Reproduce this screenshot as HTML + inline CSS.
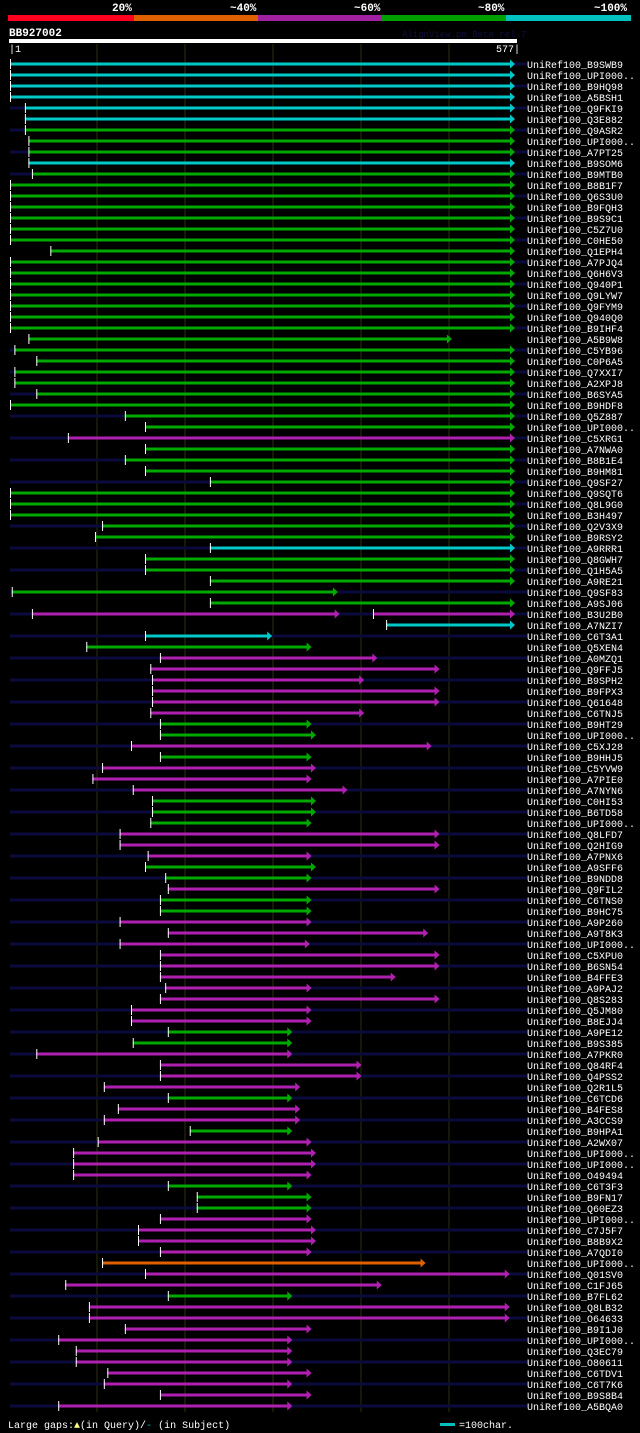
<!DOCTYPE html>
<html><head><meta charset="utf-8"><style>
body{margin:0;background:#000;width:640px;height:1433px;overflow:hidden}
svg{display:block}
text{font-family:"Liberation Mono","DejaVu Sans Mono",monospace}
</style></head><body>
<svg id="c" width="640" height="1433" xmlns="http://www.w3.org/2000/svg">
<rect width="640" height="1433" fill="#000"/>
<g>
<rect x="8" y="15" width="126" height="6" fill="#ff0020"/>
<rect x="134" y="15" width="124" height="6" fill="#e06000"/>
<rect x="258" y="15" width="124" height="6" fill="#a020a0"/>
<rect x="382" y="15" width="124" height="6" fill="#00a000"/>
<rect x="506" y="15" width="125" height="6" fill="#00c0c0"/>
<text x="112" y="11" fill="#fff" font-size="11" font-weight="bold">20%</text>
<text x="230" y="11" fill="#fff" font-size="11" font-weight="bold">~40%</text>
<text x="354" y="11" fill="#fff" font-size="11" font-weight="bold">~60%</text>
<text x="478" y="11" fill="#fff" font-size="11" font-weight="bold">~80%</text>
<text x="594" y="11" fill="#fff" font-size="11" font-weight="bold">~100%</text>
</g>
<text x="9" y="36" fill="#fff" font-size="11" font-weight="bold">BB927002</text>
<text x="402" y="37" fill="#101040" font-size="9">AlignView.pm Beta rel.7</text>
<rect x="9" y="39" width="508" height="4" fill="#fff"/>
<text x="9" y="52" fill="#fff" font-size="10">|1</text>
<text x="496" y="52" fill="#fff" font-size="10">577|</text>
<g id="grid"></g>
<g id="rows"></g>
<g>
<text x="8" y="1428" fill="#fff" font-size="10">Large gaps:<tspan fill="#ffff80">▲</tspan>(in Query)/<tspan fill="#00c0c0">-</tspan> (in Subject)</text>
<rect x="440" y="1423" width="15" height="3" fill="#00c0c0"/>
<text x="459" y="1428" fill="#fff" font-size="10">=100char.</text>
</g>
</svg>
<script>
const names=["B9SWB9","UPI000..","B9HQ98","A5BSH1","Q9FKI9","Q3E882","Q9ASR2","UPI000..","A7PT25","B9SOM6","B9MTB0","B8B1F7","Q6S3U0","B9FQH3","B9S9C1","C5Z7U0","C0HE50","Q1EPH4","A7PJQ4","Q6H6V3","Q940P1","Q9LYW7","Q9FYM9","Q940Q0","B9IHF4","A5B9W8","C5YB96","C0P6A5","Q7XXI7","A2XPJ8","B6SYA5","B9HDF8","Q5Z887","UPI000..","C5XRG1","A7NWA0","B8B1E4","B9HM81","Q9SF27","Q9SQT6","Q8L9G0","B3H497","Q2V3X9","B9RSY2","A9RRR1","Q8GWH7","Q1H5A5","A9RE21","Q9SF83","A9SJ06","B3U2B0","A7NZI7","C6T3A1","Q5XEN4","A0MZQ1","Q9FFJ5","B9SPH2","B9FPX3","Q61648","C6TNJ5","B9HT29","UPI000..","C5XJ28","B9HHJ5","C5YVW9","A7PIE0","A7NYN6","C0HI53","B6TD58","UPI000..","Q8LFD7","Q2HIG9","A7PNX6","A9SFF6","B9NDD8","Q9FIL2","C6TNS0","B9HC75","A9P260","A9T8K3","UPI000..","C5XPU0","B6SN54","B4FFE3","A9PAJ2","Q8S283","Q5JM80","B8EJJ4","A9PE12","B9S385","A7PKR0","Q84RF4","Q4PSS2","Q2R1L5","C6TCD6","B4FES8","A3CCS9","B9HPA1","A2WX07","UPI000..","UPI000..","O49494","C6T3F3","B9FN17","Q60EZ3","UPI000..","C7J5F7","B8B9X2","A7QDI0","UPI000..","Q01SV0","C1FJ65","B7FL62","Q8LB32","O64633","B9I1J0","UPI000..","Q3EC79","O80611","C6TDV1","C6T7K6","B9S8B4","A5BQA0"];
const starts=[1,1,1,1,18,18,18,22,22,22,26,1,1,1,1,1,1,47,1,1,1,1,1,1,1,22,6,31,6,6,31,1,132,155,67,155,132,155,229,1,1,1,106,98,229,155,155,229,3,229,26,430,155,88,172,161,163,163,163,161,172,172,139,172,106,95,141,163,163,161,126,126,158,155,178,181,172,172,126,181,126,172,172,172,178,172,139,139,181,141,31,172,172,108,181,124,108,206,101,73,73,73,181,214,214,172,147,147,172,106,155,64,181,91,91,132,56,76,76,112,108,172,56];
const ends=[577,577,577,577,577,577,577,577,577,577,577,577,577,577,577,577,577,577,577,577,577,577,577,577,577,505,577,577,577,577,577,577,577,577,577,577,577,577,577,577,577,577,577,577,577,577,577,577,375,577,377,577,300,345,420,491,405,491,491,405,345,350,482,345,350,345,386,350,350,345,491,491,345,350,345,491,345,345,345,478,343,491,491,441,345,491,345,345,323,323,323,402,402,332,323,332,332,323,345,350,350,345,323,345,345,345,350,350,345,475,571,425,323,571,571,345,323,323,323,345,323,345,323];
const colorGroups=[["c",6],["g",3],["c",1],["g",24],["m",1],["g",9],["c",1],["g",5],["m",1],["c",2],["g",1],["m",6],["g",2],["m",1],["g",1],["m",3],["g",3],["m",3],["g",2],["m",1],["g",2],["m",10],["g",2],["m",4],["g",1],["m",2],["g",1],["m",4],["g",3],["m",4],["o",1],["m",2],["g",1],["m",10]];
const extraStart={50:415};
const extraEnd={50:577};
const colors=[];colorGroups.forEach(([c,n])=>{for(let k=0;k<n;k++)colors.push(c);});
const palette={c:"#00c8c8",g:"#00a800",m:"#b020b0",o:"#e06000"};
const NS="http://www.w3.org/2000/svg";
const xs=p=>10+(p-1)/576*505;
const ys=i=>64+i*11;
function mk(t,a){const e=document.createElementNS(NS,t);for(const k in a)e.setAttribute(k,a[k]);return e;}
const grid=document.getElementById('grid');
[97,185,273,361,449].forEach(x=>{const l=mk('line',{x1:x,x2:x,y1:44,y2:1412,stroke:'#2e2e10','stroke-width':1});


grid.appendChild(l);});
const rows=document.getElementById('rows');
function seg(g,s,e,col,y){
 const x1=xs(s),x2=xs(e);
 g.appendChild(mk('rect',{x:x1,y:y-1.5,width:Math.max(0,x2-x1-4),height:3,fill:col}));
 g.appendChild(mk('line',{x1:x1+0.5,x2:x1+0.5,y1:y-5,y2:y+5,stroke:'#fff','stroke-width':1}));
 g.appendChild(mk('polygon',{points:`${x2-5},${y-4.5} ${x2},${y} ${x2-5},${y+4.5}`,fill:col}));
}
names.forEach((n,i)=>{
 const y=ys(i);
 const g=mk('g',{});
 
 
 if(i%2===0) g.appendChild(mk('rect',{x:10,y:y-1.5,width:517,height:3,fill:'#0a0a3c'}));
 const col=palette[colors[i]]||palette.m;
 seg(g,starts[i],ends[i],col,y);
 if(extraStart[i]!==undefined) seg(g,extraStart[i],extraEnd[i],col,y);
 const t=mk('text',{x:527,y:y+4,fill:'#fff','font-size':10});
 t.textContent='UniRef100_'+n;
 
 
 g.appendChild(t);
 rows.appendChild(g);
});
</script>
</body></html>
